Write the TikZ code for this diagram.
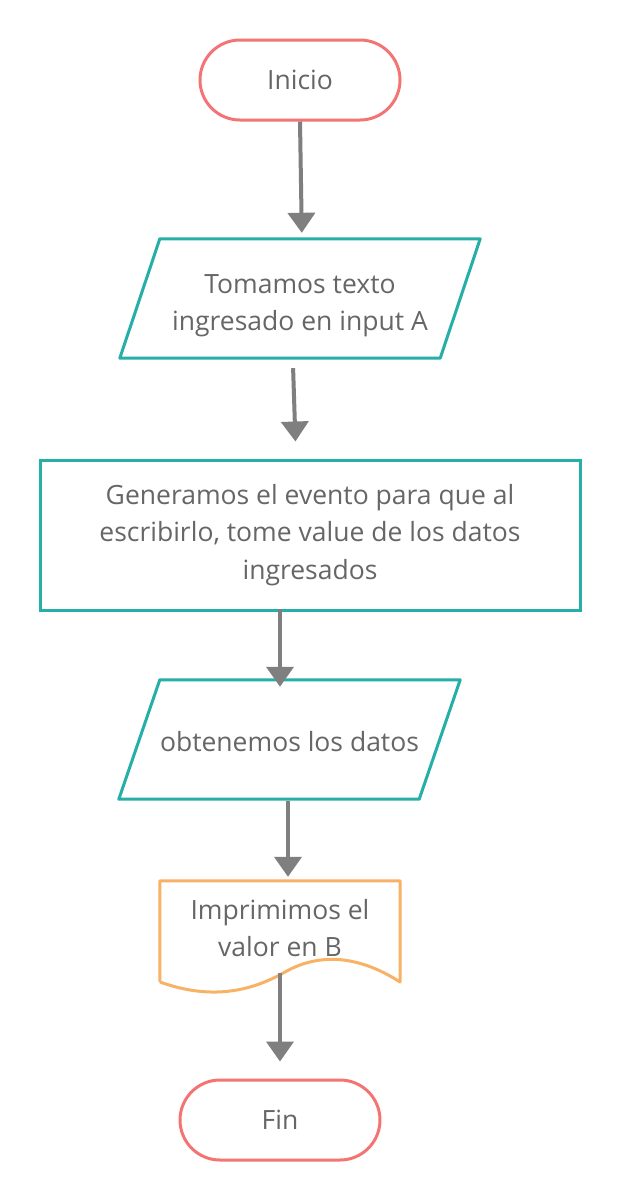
\documentclass[tikz,border=0pt]{standalone}
\usepackage{fontspec}
\setmainfont{Open Sans}
\usetikzlibrary{arrows.meta}
\definecolor{pillc}{HTML}{F47474}
\definecolor{tealc}{HTML}{26AFA8}
\definecolor{orngc}{HTML}{F8B266}
\definecolor{txtc}{HTML}{666666}
\definecolor{arrc}{HTML}{7F7F7F}
\begin{document}
\begin{tikzpicture}[x=1pt,y=-1pt,
 base/.style={text=txtc, font=\fontsize{26.5}{37.5}\selectfont, align=center, inner sep=0pt},
 term/.style={base, draw=pillc, line width=3pt, rounded corners=40pt, minimum width=200pt, minimum height=80pt},
 proc/.style={base, draw=tealc, line width=3pt, minimum width=540pt, minimum height=150pt},
 iobox/.style={base, minimum height=119pt},
 ioline/.style={draw=tealc, line width=3pt, line join=round},
 docline/.style={draw=orngc, line width=3pt, line join=round},
 flow/.style={draw=arrc, line width=4pt, -{Triangle[width=27pt,length=20pt]}},
]
\fill[white] (0,0) rectangle (620,1200);
\useasboundingbox (0,0) rectangle (620,1200);

\node[term] (ini) at (300,80) {Inicio};

\node[iobox, minimum width=320pt] (p1) at (300,305.5) {Tomamos texto\\ingresado en input A};
\draw[ioline] ([xshift=20pt,yshift=7pt]p1.north west) -- ([xshift=20pt,yshift=7pt]p1.north east)
  -- ([xshift=-20pt,yshift=7pt]p1.south east) -- ([xshift=-20pt,yshift=7pt]p1.south west) -- cycle;

\node[proc] (gen) at (310,535) {Generamos el evento para que al\\escribirlo, tome value de los datos\\ingresados};

\node[iobox, minimum width=300pt] (p2) at (289.5,741.5) {obtenemos los datos};
\draw[ioline] ([xshift=20.5pt,yshift=2pt]p2.north west) -- ([xshift=20.5pt,yshift=2pt]p2.north east)
  -- ([xshift=-20.5pt,yshift=2pt]p2.south east) -- ([xshift=-20.5pt,yshift=2pt]p2.south west) -- cycle;

\node[base, minimum width=240pt, minimum height=94pt] (doc) at (280,928) {Imprimimos el\\valor en B};
\draw[docline] (160,982) -- (doc.north west) -- (doc.north east) -- (400,982)
  .. controls (360,956) and (320,952) .. (285,972)
  .. controls (250,992) and (210,1000) .. (160,982);

\node[term] (fin) at (280,1120) {Fin};

\draw[flow, shorten >=13pt] (ini.south) -- ([xshift=2pt]p1.north);
\draw[flow, shorten <=3pt, shorten >=17pt] ([xshift=-7pt]p1.south) -- ([xshift=-14pt]gen.north);
\draw[flow, shorten <=-3pt, shorten >=-5pt] ([xshift=-30pt]gen.south) -- ([xshift=-9.5pt]p2.north);
\draw[flow, shorten <=0pt, shorten >=4pt] ([xshift=-1.5pt]p2.south) -- ([xshift=8pt]doc.north);
\draw[flow, shorten <=-2pt, shorten >=17pt] (doc.south) -- (fin.north);
\end{tikzpicture}
\end{document}
